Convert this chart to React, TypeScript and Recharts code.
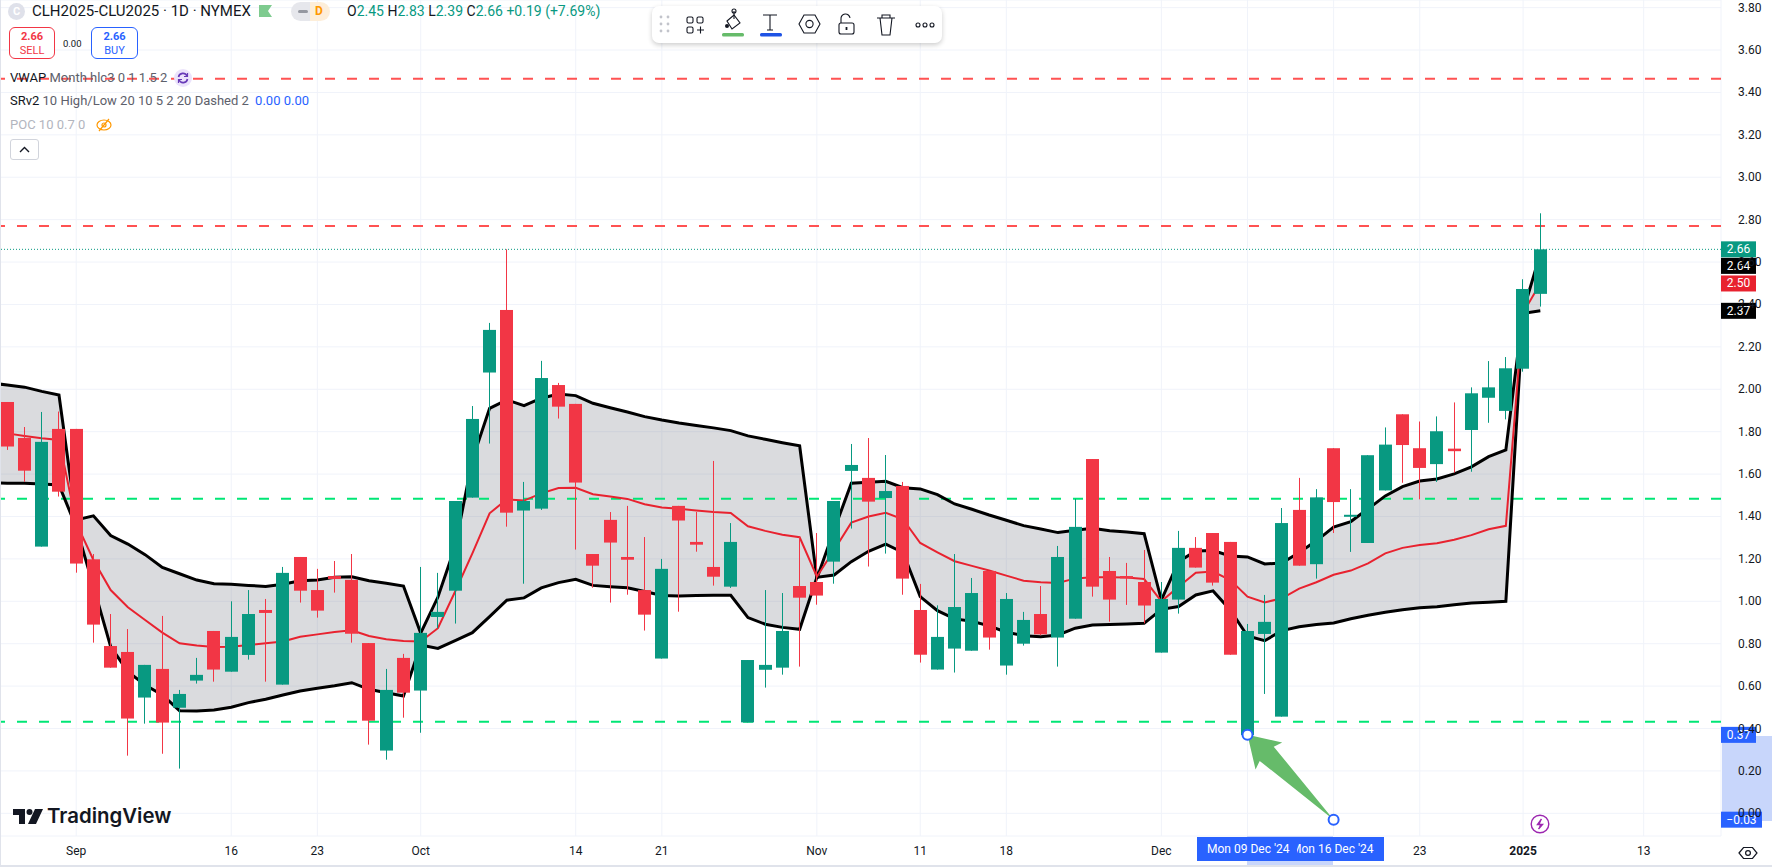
import React from "react";
import {
  ComposedChart,
  Area,
  Bar,
  Line,
  XAxis,
  YAxis,
  CartesianGrid,
  ReferenceLine,
  ReferenceDot,
} from "recharts";

const opens = [1.94, 1.77, 1.258, 1.813, 1.813, 1.198, 0.789, 0.761, 0.546, 0.681, 0.498, 0.626, 0.86, 0.668, 0.747, 0.959, 0.607, 1.209, 1.053, 1.119, 1.101, 0.803, 0.296, 0.733, 0.579, 0.926, 1.05, 1.489, 2.079, 2.374, 1.428, 1.437, 2.02, 1.931, 1.223, 1.384, 1.209, 1.053, 0.73, 1.45, 1.28, 1.162, 1.069, 0.429, 0.677, 0.687, 1.072, 1.091, 1.187, 1.615, 1.582, 1.487, 1.544, 0.959, 0.678, 0.777, 0.767, 1.143, 0.697, 0.8, 0.94, 0.829, 0.918, 1.671, 1.143, 1.119, 1.091, 0.758, 1.008, 1.252, 1.322, 1.28, 0.369, 0.846, 0.456, 1.431, 1.175, 1.722, 1.405, 1.275, 1.523, 1.882, 1.722, 1.647, 1.72, 1.808, 1.96, 1.898, 2.097, 2.45];
const highs = [1.94, 1.822, 1.893, 1.895, 1.813, 1.223, 0.94, 0.869, 0.7, 0.931, 0.582, 0.733, 0.86, 1.0, 1.053, 1.011, 1.162, 1.209, 1.153, 1.19, 1.223, 0.803, 0.681, 0.752, 1.162, 1.134, 1.473, 1.921, 2.313, 2.66, 1.563, 2.134, 2.03, 1.931, 1.223, 1.421, 1.45, 1.303, 1.2, 1.45, 1.421, 1.662, 1.369, 0.723, 1.053, 1.039, 1.303, 1.322, 1.473, 1.742, 1.77, 1.69, 1.563, 1.082, 0.981, 1.223, 1.11, 1.143, 1.039, 0.95, 1.072, 1.261, 1.483, 1.671, 1.209, 1.181, 1.242, 1.091, 1.332, 1.303, 1.322, 1.28, 0.893, 1.03, 1.44, 1.582, 1.529, 1.722, 1.529, 1.689, 1.82, 1.882, 1.848, 1.872, 1.938, 2.009, 2.133, 2.152, 2.519, 2.83];
const lows = [1.714, 1.564, 1.258, 1.494, 1.135, 0.805, 0.687, 0.272, 0.423, 0.281, 0.211, 0.612, 0.621, 0.668, 0.725, 0.621, 0.607, 0.994, 0.923, 1.041, 0.805, 0.324, 0.253, 0.451, 0.38, 0.873, 0.895, 1.489, 1.744, 1.352, 1.083, 1.431, 1.862, 1.244, 1.064, 0.994, 1.031, 0.862, 0.73, 0.951, 1.234, 1.074, 1.063, 0.429, 0.593, 0.654, 0.692, 0.984, 1.083, 1.343, 1.164, 1.225, 1.031, 0.711, 0.678, 0.664, 0.767, 0.772, 0.654, 0.791, 0.84, 0.692, 0.918, 1.022, 0.904, 0.983, 0.896, 0.758, 0.942, 1.159, 1.074, 0.748, 0.369, 0.563, 0.456, 1.168, 1.107, 1.322, 1.233, 1.275, 1.523, 1.559, 1.481, 1.563, 1.607, 1.611, 1.842, 1.858, 2.083, 2.39];
const closes = [1.73, 1.616, 1.752, 1.517, 1.178, 0.89, 0.687, 0.447, 0.7, 0.428, 0.563, 0.653, 0.678, 0.832, 0.94, 0.945, 1.134, 1.05, 0.956, 1.105, 0.847, 0.437, 0.582, 0.569, 0.851, 0.95, 1.473, 1.86, 2.28, 1.418, 1.473, 2.053, 1.918, 1.56, 1.168, 1.277, 1.196, 0.937, 1.153, 1.381, 1.267, 1.116, 1.28, 0.723, 0.7, 0.86, 1.017, 1.027, 1.473, 1.643, 1.47, 1.52, 1.107, 0.748, 0.832, 0.973, 1.039, 0.829, 1.011, 0.912, 0.844, 1.209, 1.351, 1.069, 1.008, 1.108, 0.98, 1.011, 1.252, 1.159, 1.088, 0.748, 0.86, 0.903, 1.369, 1.168, 1.49, 1.468, 1.408, 1.689, 1.739, 1.737, 1.629, 1.802, 1.708, 1.981, 2.009, 2.099, 2.473, 2.66];
const upperBand = [2.02, 2.01, 1.99, 1.973, 1.384, 1.403, 1.31, 1.27, 1.22, 1.16, 1.13, 1.1, 1.083, 1.08, 1.075, 1.07, 1.08, 1.097, 1.1, 1.113, 1.116, 1.097, 1.085, 1.072, 0.85, 1.02, 1.258, 1.667, 1.91, 1.95, 1.923, 1.958, 1.978, 1.97, 1.934, 1.913, 1.893, 1.871, 1.855, 1.841, 1.829, 1.818, 1.805, 1.78, 1.764, 1.748, 1.733, 1.108, 1.336, 1.557, 1.562, 1.566, 1.536, 1.53, 1.503, 1.459, 1.434, 1.407, 1.382, 1.357, 1.341, 1.324, 1.335, 1.344, 1.333, 1.327, 1.319, 1.006, 1.187, 1.237, 1.239, 1.214, 1.209, 1.176, 1.181, 1.23, 1.285, 1.35, 1.376, 1.436, 1.497, 1.541, 1.567, 1.577, 1.601, 1.634, 1.682, 1.714, 2.366, 2.64];
const meanBand = [1.792, 1.78, 1.769, 1.761, 1.37, 1.195, 1.053, 0.972, 0.912, 0.852, 0.802, 0.791, 0.785, 0.786, 0.794, 0.802, 0.81, 0.833, 0.844, 0.855, 0.863, 0.836, 0.821, 0.813, 0.81, 0.873, 1.046, 1.226, 1.415, 1.481, 1.475, 1.509, 1.534, 1.535, 1.505, 1.494, 1.483, 1.458, 1.442, 1.436, 1.428, 1.421, 1.417, 1.354, 1.332, 1.314, 1.302, 1.116, 1.242, 1.371, 1.4, 1.417, 1.387, 1.275, 1.231, 1.189, 1.167, 1.145, 1.121, 1.097, 1.09, 1.086, 1.108, 1.113, 1.113, 1.112, 1.105, 1.0, 1.069, 1.135, 1.14, 1.1, 1.022, 0.995, 1.014, 1.06, 1.09, 1.125, 1.145, 1.179, 1.226, 1.252, 1.266, 1.274, 1.29, 1.312, 1.34, 1.356, 2.36, 2.5];
const lowerBand = [1.557, 1.557, 1.553, 1.549, 1.35, 1.07, 0.786, 0.668, 0.605, 0.558, 0.484, 0.483, 0.487, 0.5, 0.522, 0.538, 0.558, 0.577, 0.59, 0.602, 0.616, 0.585, 0.569, 0.553, 0.794, 0.778, 0.814, 0.852, 0.928, 1.005, 1.016, 1.063, 1.088, 1.104, 1.075, 1.069, 1.064, 1.046, 1.027, 1.025, 1.027, 1.028, 1.028, 0.923, 0.892, 0.877, 0.868, 1.113, 1.124, 1.187, 1.236, 1.27, 1.23, 1.022, 0.956, 0.917, 0.906, 0.884, 0.854, 0.838, 0.833, 0.841, 0.873, 0.888, 0.89, 0.893, 0.896, 0.962, 0.975, 1.03, 1.049, 0.959, 0.836, 0.814, 0.862, 0.88, 0.89, 0.898, 0.918, 0.934, 0.948, 0.96, 0.97, 0.974, 0.984, 0.992, 0.996, 1.0, 2.358, 2.37];

// band values of the bar just left of the visible range
const leadInUpper = 2.03;
const leadInMean = 1.8;
const leadInLower = 1.558;

const priceTicks = [0, 0.2, 0.4, 0.6, 0.8, 1, 1.2, 1.4, 1.6, 1.8, 2, 2.2, 2.4, 2.6, 2.8, 3, 3.2, 3.4, 3.6, 3.8];
const timeTicks = [4, 13, 18, 24, 33, 38, 47, 53, 58, 67, 72, 77, 82, 88, 95];
const timeLabels = ["Sep", "16", "23", "Oct", "14", "21", "Nov", "11", "18", "Dec", "", "", "23", "2025", "13"];

const redLevels = [3.465, 2.77];
const greenLevels = [1.484, 0.432];
const lastPrice = 2.66;
const priceTags = [
  { y: 2.66, text: "2.66", color: "#089981", w: 35 },
  { y: 2.582, text: "2.64", color: "#000000", w: 35 },
  { y: 2.499, text: "2.50", color: "#e8222f", w: 35 },
  { y: 2.37, text: "2.37", color: "#000000", w: 35 },
  { y: 0.37, text: "0.37", color: "#2962ff", w: 35 },
  { y: -0.03, text: "\u22120.03", color: "#2962ff", w: 41 },
];

const UP = "#089981";
const DOWN = "#f23645";
const FONT = "Roboto, sans-serif";

const rows: any[] = [
  { i: -1, band: [leadInLower, leadInUpper], upper: leadInUpper, mean: leadInMean, lower: leadInLower },
  ...opens.map((open, i) => ({
    i,
    open,
    close: closes[i],
    high: highs[i],
    low: lows[i],
    wick: [lows[i], highs[i]],
    band: [lowerBand[i], upperBand[i]],
    upper: upperBand[i],
    mean: meanBand[i],
    lower: lowerBand[i],
  })),
];

const Candle = (props: any) => {
  const { x, y, width, height, payload } = props;
  if (payload.open === undefined) return null;
  const color = payload.close >= payload.open ? UP : DOWN;
  const h = Math.abs(height);
  const top = height < 0 ? y + height : y;
  const perUnit = h / (payload.high - payload.low);
  const bodyTop = top + (payload.high - Math.max(payload.open, payload.close)) * perUnit;
  const bodyH = Math.abs(payload.open - payload.close) * perUnit;
  const left = Math.round(x);
  return (
    <g>
      <rect x={left + width / 2 - 0.5} y={top} width={1} height={h} fill={color} />
      <rect x={left} y={bodyTop} width={width} height={Math.max(bodyH, 2)} fill={color} />
    </g>
  );
};

const PriceTick = (props: any) => {
  const { x, y, payload } = props;
  return (
    <text x={x + 9} y={y + 4} fontSize={12} fontFamily={FONT} fill="#131722">
      {payload.value.toFixed(2)}
    </text>
  );
};

const TimeTick = (props: any) => {
  const { x, payload } = props;
  const label = timeLabels[timeTicks.indexOf(payload.value)];
  return (
    <text x={x} y={855} textAnchor="middle" fontSize={12} fontFamily={FONT} fill="#131722" fontWeight={label === "2025" ? 700 : 400}>
      {label}
    </text>
  );
};

const ArrowShape = (props: any) => {
  const { x1, y1, x2, y2 } = props;
  // tail is the first point, tip is the second
  const len = Math.hypot(x2 - x1, y2 - y1);
  const ux = (x1 - x2) / len;
  const uy = (y1 - y2) / len;
  const nx = -uy;
  const ny = ux;
  const at = (along: number, side: number) => `${x2 + ux * along + nx * side},${y2 + uy * along + ny * side}`;
  const pts = [at(0, 0), at(30, -19), at(27, -10), at(len, 0), at(27, 10), at(30, 19)].join(" ");
  return <polygon points={pts} fill="#66bb6a" />;
};

const tagLabel = (tag: any) => (p: any) => {
  const vb = p.viewBox;
  const left = vb.x + vb.width;
  return (
    <g>
      <rect x={left} y={vb.y - 8} width={tag.w} height={16} fill={tag.color} />
      <text x={left + tag.w / 2} y={vb.y + 4} textAnchor="middle" fontSize={12} fontFamily={FONT} fill="#ffffff">
        {tag.text}
      </text>
    </g>
  );
};

const abs = (left: number, top: number, extra: React.CSSProperties = {}): React.CSSProperties => ({
  position: "absolute",
  left,
  top,
  whiteSpace: "nowrap",
  ...extra,
});

const Header = () => (
  <>
    <div style={abs(8, 3, { width: 17, height: 17, borderRadius: 9, background: "#dfe1ea", color: "#fff", fontSize: 11, fontWeight: 700, textAlign: "center", lineHeight: "17px" })}>C</div>
    <div style={abs(32, 2, { fontSize: 15, color: "#131722", lineHeight: "18px" })}>CLH2025-CLU2025 · 1D · NYMEX</div>
    <svg style={abs(259, 5)} width={13} height={12}>
      <path d="M0 0H13L9 6L13 12H0Z" fill="#7ecb8f" />
    </svg>
    <div style={abs(291, 2, { width: 39, height: 19, borderRadius: 10, background: "linear-gradient(90deg,#e6e7ec 50%,#fdeed9 50%)" })} />
    <div style={abs(298, 10, { width: 10, height: 3, borderRadius: 2, background: "#9598a1" })} />
    <div style={abs(315, 3, { fontSize: 12, fontWeight: 700, color: "#ff9800", lineHeight: "17px" })}>D</div>
    <div style={abs(347, 3, { fontSize: 14, lineHeight: "17px", color: UP })}>
      <span style={{ color: "#131722" }}>O</span>2.45 <span style={{ color: "#131722" }}> H</span>2.83 <span style={{ color: "#131722" }}> L</span>2.39 <span style={{ color: "#131722" }}> C</span>2.66 +0.19 (+7.69%)
    </div>

    <div style={abs(9, 27, { width: 46, height: 32, boxSizing: "border-box", border: "1px solid #f23645", borderRadius: 6, background: "#fff", color: "#f23645", textAlign: "center", fontSize: 11, lineHeight: "14px", paddingTop: 2 })}>
      <div style={{ fontWeight: 700 }}>2.66</div>
      <div>SELL</div>
    </div>
    <div style={abs(63, 37, { fontSize: 9.5, color: "#131722", lineHeight: "14px" })}>0.00</div>
    <div style={abs(91, 27, { width: 47, height: 32, boxSizing: "border-box", border: "1px solid #2962ff", borderRadius: 6, background: "#fff", color: "#2962ff", textAlign: "center", fontSize: 11, lineHeight: "14px", paddingTop: 2 })}>
      <div style={{ fontWeight: 700 }}>2.66</div>
      <div>BUY</div>
    </div>

    <div style={abs(10, 70, { fontSize: 13, lineHeight: "16px", color: "#5d606b" })}>
      <span style={{ color: "#131722" }}>VWAP</span> Month hlc3 0 1 1.5 2
    </div>
    <div style={abs(174, 69, { width: 18, height: 18, borderRadius: 9, background: "#ebe3fb" })} />
    <svg style={abs(177, 72)} width={12} height={12} viewBox="0 0 12 12" fill="none" stroke="#673ab7" strokeWidth={1.6}>
      <path d="M1.5 5A4.5 4.5 0 0 1 10 4M10.5 7A4.5 4.5 0 0 1 2 8" />
      <path d="M10.5 1V4.5H7M1.5 11V7.5H5" strokeWidth={1.2} />
    </svg>

    <div style={abs(10, 93, { fontSize: 13, lineHeight: "16px", color: "#5d606b" })}>
      <span style={{ color: "#131722" }}>SRv2</span> 10 High/Low 20 10 5 2 20 Dashed 2 <span style={{ color: "#2962ff", marginLeft: 3 }}>0.00 0.00</span>
    </div>
    <div style={abs(10, 117, { fontSize: 13, lineHeight: "16px", color: "#b2b5be" })}>POC 10 0.7 0</div>
    <svg style={abs(96, 117)} width={16} height={16} viewBox="0 0 16 16" fill="none" stroke="#ff9800" strokeWidth={1.2}>
      <ellipse cx={8} cy={8} rx={7} ry={5} />
      <circle cx={8} cy={8} r={2} />
      <path d="M3 14L13 2" />
    </svg>
    <div style={abs(10, 139, { width: 29, height: 21, boxSizing: "border-box", border: "1px solid #d1d4dc", borderRadius: 3, background: "#fff" })} />
    <svg style={abs(19, 146)} width={11} height={7} fill="none" stroke="#131722" strokeWidth={1.4}>
      <path d="M1 6L5.5 1.5L10 6" />
    </svg>
  </>
);

const Toolbar = () => (
  <>
    <div style={abs(652, 6, { width: 290, height: 37, background: "#fff", borderRadius: 7, boxShadow: "0 2px 5px rgba(0,0,0,0.2)" })} />
    <svg style={abs(652, 6)} width={290} height={37} fill="none" stroke="#131722" strokeWidth={1.1}>
      <g fill="#c2c4cb" stroke="none">
        {[0, 1].map((c) => [0, 1, 2].map((r) => <circle key={`${c}${r}`} cx={9 + c * 7} cy={11 + r * 7} r={1.4} />))}
      </g>
      <rect x={35} y={11} width={6} height={6} rx={1.5} />
      <rect x={45} y={11} width={6} height={6} rx={1.5} />
      <rect x={35} y={21} width={6} height={6} rx={1.5} />
      <path d="M45 24H52M48.5 20.5V27.5" />
      <path d="M75 15L82 9L88 17L80 23Z" />
      <path d="M82 5V13" />
      <circle cx={82} cy={5} r={2} />
      <circle cx={75} cy={20} r={2} fill="#131722" stroke="none" />
      <rect x={70} y={27} width={22} height={3.5} rx={1.5} fill="#66bb6a" stroke="none" />
      <path d="M111 9H125M118 9V24M115 24H121" />
      <rect x={108} y={27} width={22} height={3.5} rx={1.5} fill="#1e53e5" stroke="none" />
      <path d="M147 18L152 9H163L168 18L163 27H152Z" />
      <circle cx={157.5} cy={18} r={3.6} />
      <rect x={187} y={17} width={15} height={11} rx={2} />
      <path d="M189 17V13A4.5 4.5 0 0 1 198 12" />
      <path d="M194.5 21V24" strokeWidth={1.8} />
      <path d="M225 12H243M228 12L230 29H238L240 12M230 12V9H238V12" />
      <circle cx={266} cy={19} r={2} />
      <circle cx={273} cy={19} r={2} />
      <circle cx={280} cy={19} r={2} />
    </svg>
  </>
);

const Logo = () => (
  <>
    <svg style={abs(13, 808)} width={30} height={17} viewBox="0 0 30 17" fill="#131722">
      <path d="M0 1H12V16H6V7H0Z" />
      <circle cx={16.5} cy={4} r={3} />
      <path d="M22 1H30L23 16H15Z" />
    </svg>
    <div style={abs(47, 804, { fontSize: 20.4, fontWeight: 600, color: "#131722", lineHeight: "24px", fontFamily: "Inter, sans-serif" })}>TradingView</div>
  </>
);

const TimeBoxes = () => (
  <>
    <div style={abs(1247, 836, { width: 86, height: 29, background: "#c8d6fb" })} />
    <div style={abs(1197, 837, { width: 187, height: 24, background: "#2962ff" })} />
    <div style={abs(1207, 841, { color: "#fff", fontSize: 12, lineHeight: "16px" })}>Mon 09 Dec '24</div>
    <div style={abs(1297, 841, { width: 84, overflow: "hidden", color: "#fff", fontSize: 12, lineHeight: "16px" })}>
      <span style={{ marginLeft: -6 }}>Mon 16 Dec '24</span>
    </div>
  </>
);

const App = () => (
  <div style={{ position: "fixed", left: 0, top: 0, width: 1772, height: 867, background: "#fff", overflow: "hidden", fontFamily: FONT }}>
    <div style={abs(1722, 736, { width: 50, height: 85, background: "#c8d6fb" })} />
    <div style={abs(0, 0)}>
      <ComposedChart width={1772} height={867} data={rows} margin={{ top: 0, right: 0, bottom: 0, left: 0 }} barSize={13}>
        <CartesianGrid stroke="#f0f3fa" strokeWidth={1} />
        <XAxis
          dataKey="i"
          type="number"
          scale="linear"
          domain={[-0.424, 99.49]}
          ticks={timeTicks}
          interval={0}
          height={31}
          axisLine={false}
          tickLine={false}
          tick={<TimeTick />}
          allowDataOverflow
        />
        <YAxis
          orientation="right"
          type="number"
          domain={[-0.107, 3.836]}
          ticks={priceTicks}
          interval={0}
          width={51}
          axisLine={false}
          tickLine={false}
          tick={<PriceTick />}
          allowDataOverflow
        />
        <Area dataKey="band" stroke="none" fill="#787b86" fillOpacity={0.27} isAnimationActive={false} dot={false} activeDot={false} zIndex={100} />
        {redLevels.map((v) => (
          <ReferenceLine key={v} y={v} stroke="#ff5252" strokeWidth={2} strokeDasharray="10 12" zIndex={150} />
        ))}
        {greenLevels.map((v) => (
          <ReferenceLine key={v} y={v} stroke="#00e676" strokeWidth={2} strokeDasharray="10 12" zIndex={150} />
        ))}
        <ReferenceLine y={lastPrice} stroke={UP} strokeWidth={1} strokeDasharray="1 2" zIndex={150} />
        <Line dataKey="upper" stroke="#000000" strokeWidth={3} dot={false} activeDot={false} isAnimationActive={false} zIndex={200} />
        <Line dataKey="lower" stroke="#000000" strokeWidth={3} dot={false} activeDot={false} isAnimationActive={false} zIndex={200} />
        <Line dataKey="mean" stroke="#e8222f" strokeWidth={2} dot={false} activeDot={false} isAnimationActive={false} zIndex={210} />
        <Bar dataKey="wick" shape={<Candle />} isAnimationActive={false} zIndex={300} />
        <ReferenceLine segment={[{ x: 77, y: -0.03 }, { x: 72, y: 0.37 }]} shape={<ArrowShape />} zIndex={800} />
        <ReferenceDot x={72} y={0.37} r={5} fill="#ffffff" stroke="#2962ff" strokeWidth={2} zIndex={810} />
        <ReferenceDot x={77} y={-0.03} r={5} fill="#ffffff" stroke="#2962ff" strokeWidth={2} zIndex={810} />
        {priceTags.map((t) => (
          <ReferenceLine key={t.text} y={t.y} stroke="none" label={tagLabel(t)} zIndex={900} />
        ))}
      </ComposedChart>
    </div>
    <TimeBoxes />
    <Header />
    <Toolbar />
    <Logo />
    <svg style={abs(1530, 814)} width={20} height={20} fill="none" stroke="#9c27b0" strokeWidth={1.4}>
      <circle cx={10} cy={10} r={8.8} />
      <path d="M11.5 5L7.5 10.5H12.5L8.5 15" fill="#9c27b0" />
    </svg>
    <svg style={abs(1738, 846)} width={20} height={14} fill="none" stroke="#131722" strokeWidth={1.2}>
      <path d="M1 7L5.5 1.5H14.5L19 7L14.5 12.5H5.5Z" />
      <circle cx={10} cy={7} r={2.4} />
    </svg>
    <div style={abs(0, 0, { width: 1, height: 867, background: "#e0e3eb" })} />
    <div style={abs(0, 865, { width: 1772, height: 2, background: "#e0e3eb" })} />
  </div>
);

export default App;
